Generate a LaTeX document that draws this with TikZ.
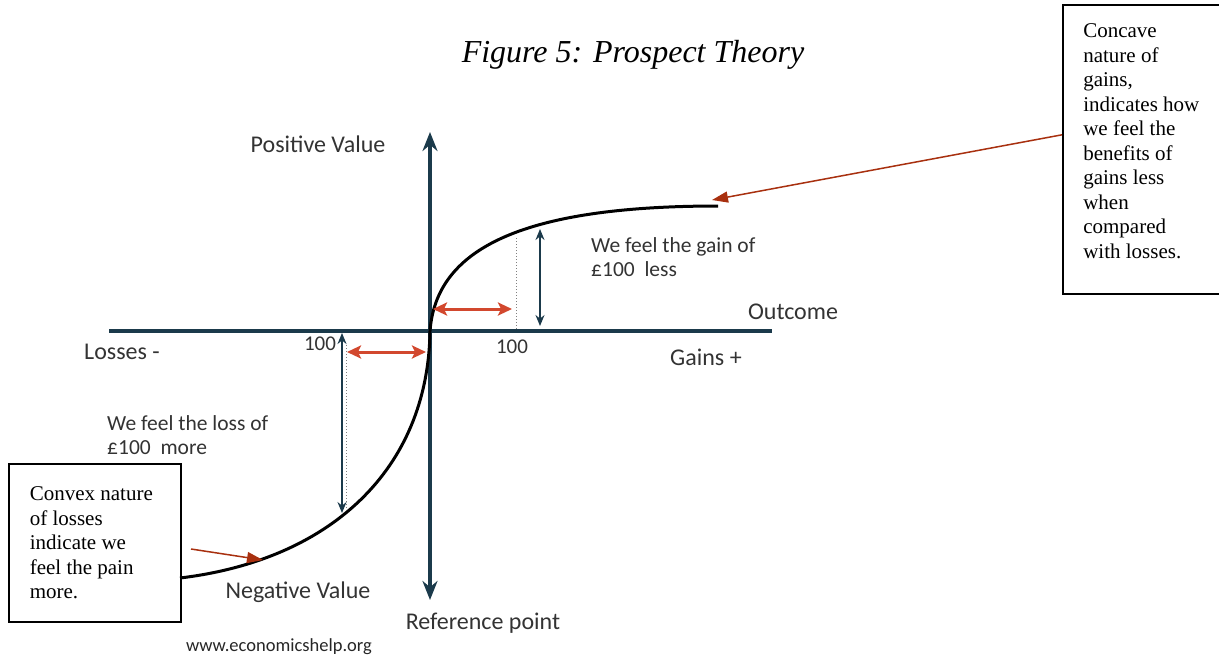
\documentclass[tikz,border=0pt]{standalone}
\usepackage{fontspec}
\setmainfont{Liberation Serif}
\newfontfamily\carl{Carlito}
\usetikzlibrary{arrows.meta}
\definecolor{axisc}{HTML}{1B3A4B}
\definecolor{redarr}{HTML}{D2482E}
\definecolor{annot}{HTML}{A8300F}
\definecolor{labc}{HTML}{333333}
\tikzset{
  axisline/.style={line width=3.8pt, axisc},
  curveline/.style={line width=3pt, black},
  redboth/.style={line width=3pt, redarr, {Stealth[length=14pt,width=13pt,inset=3pt]}-{Stealth[length=14pt,width=13pt,inset=3pt]}},
  navyboth/.style={line width=1.6pt, axisc, {Stealth[length=11pt,width=9pt]}-{Stealth[length=11pt,width=9pt]}},
  dotline/.style={line width=1pt, gray, dotted},
  annotarrow/.style={line width=1.5pt, annot, -{Triangle[length=16pt,width=11pt]}},
  lab/.style={font=\carl\fontsize{24}{28}\selectfont, text=labc, inner sep=0pt},
  desc/.style={font=\carl\fontsize{21.5}{24}\selectfont, text=labc, inner sep=0pt, align=left},
  notebox/.style={draw=black, line width=1.6pt, font=\fontsize{21}{24.5}\selectfont, align=left, inner sep=0pt}
}
\begin{document}
\begin{tikzpicture}[x=1pt,y=-1pt]
\useasboundingbox (0,0) rectangle (1219,657);
% title
\node[font=\itshape\fontsize{32}{38}\selectfont, inner sep=0pt] (title) at (633,55) {Figure 5: Prospect Theory};
% axes
\coordinate (o) at (430,331);
\coordinate (vtop) at (430,132);
\coordinate (vbot) at (430,600);
\coordinate (hl) at (109,331);
\coordinate (hr) at (772,331);
\draw[axisline] (hl) -- (hr);
\draw[axisline, {Stealth[length=19pt,width=15pt]}-{Stealth[length=19pt,width=15pt]}] (vtop) -- (vbot);
% curve
\coordinate (gend) at (718,206);
\coordinate (lend) at (180,578);
\draw[curveline] (lend) .. controls (330,560) and (428,470) .. (o) .. controls (436,252) and (515,206) .. (gend);
% gains markers
\coordinate (g1) at (433,309);
\coordinate (g2) at (512,309);
\draw[redboth] (g1) -- (g2);
\coordinate (gd1) at (516,238);
\coordinate (gd2) at (516,329);
\draw[dotline] (gd1) -- (gd2);
\coordinate (gv1) at (540,229);
\coordinate (gv2) at (540,326);
\draw[navyboth] (gv1) -- (gv2);
% losses markers
\coordinate (l1) at (347,352);
\coordinate (l2) at (426,352);
\draw[redboth] (l1) -- (l2);
\coordinate (ld1) at (346,345);
\coordinate (ld2) at (346,510);
\draw[dotline] (ld1) -- (ld2);
\coordinate (lv1) at (342,333);
\coordinate (lv2) at (342,513);
\draw[navyboth] (lv1) -- (lv2);
% labels
\node[lab] (posv) at (318,144) {Positive Value};
\node[lab] (outc) at (793,312) {Outcome};
\node[lab] (loss) at (122,352) {Losses -};
\node[lab, font=\carl\fontsize{21}{25}\selectfont] (hl1) at (320,344) {100};
\node[lab, font=\carl\fontsize{21}{25}\selectfont] (hg1) at (512,347) {100};
\node[lab] (gains) at (706,357) {Gains +};
\node[desc, anchor=west] (gaintxt) at (591,257) {We feel the gain of\\\pounds100\ \ less};
\node[desc, anchor=west] (losstxt) at (107,435) {We feel the loss of\\\pounds100\ \ more};
\node[lab] (negv) at (298,592) {Negative Value};
\node[lab] (refp) at (483,623) {Reference point};
\node[lab, font=\carl\fontsize{18.5}{22}\selectfont, text=black!85] (www) at (279,647) {www.economicshelp.org};
% note boxes
\node[notebox, anchor=north west, minimum width=157pt, minimum height=289pt, text depth=17pt] (rbox) at (1062,4)
  {Concave\\nature of\\gains,\\indicates how\\we feel the\\benefits of\\gains less\\when\\compared\\with losses.};
\node[notebox, anchor=north west, minimum width=172pt, minimum height=158pt] (lbox) at (8,463)
  {Convex nature\hspace*{7pt}\\of losses\\indicate we\\feel the pain\\more.};
% annotation arrows
\coordinate (rtip) at (712,200);
\draw[annotarrow] ([yshift=14.5pt]rbox.west) -- (rtip);
\coordinate (lstart) at (191,549);
\coordinate (ltip) at (263,560);
\draw[annotarrow] (lstart) -- (ltip);
\end{tikzpicture}
\end{document}
